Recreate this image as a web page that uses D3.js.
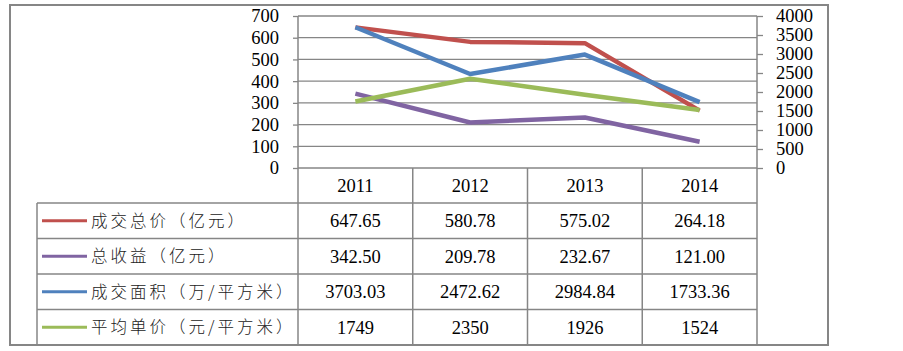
<!DOCTYPE html>
<html>
<head>
<meta charset="utf-8">
<script src="https://cdn.jsdelivr.net/npm/d3@7"></script>
<style>
  body { margin: 0; background: #fff; }
  svg { display: block; }
</style>
</head>
<body>
<div id="chart"></div>
<script>
// Chart data
const years = ["2011", "2012", "2013", "2014"];
const seriesNames = ["成交总价（亿元）", "总收益（亿元）", "成交面积（万/平方米）", "平均单价（元/平方米）"];
const totalPrice = [647.65, 580.78, 575.02, 264.18];
const totalIncome = [342.50, 209.78, 232.67, 121.00];
const dealArea = [3703.03, 2472.62, 2984.84, 1733.36];
const avgPrice = [1749, 2350, 1926, 1524];
const valueLabels = [
  ["647.65", "580.78", "575.02", "264.18"],
  ["342.50", "209.78", "232.67", "121.00"],
  ["3703.03", "2472.62", "2984.84", "1733.36"],
  ["1749", "2350", "1926", "1524"]
];
const leftTicks = [0, 100, 200, 300, 400, 500, 600, 700];
const rightTicks = [0, 500, 1000, 1500, 2000, 2500, 3000, 3500, 4000];

const colors = ["#C0504D", "#8064A2", "#4F81BD", "#9BBB59"];
const axisOf = ["left", "left", "right", "right"];
const seriesValues = [totalPrice, totalIncome, dealArea, avgPrice];

const W = 903, H = 351;
const gridColor = "#868686";
const numFont = "Liberation Serif";
const cjkFont = "Noto Sans CJK SC";

// plot area
const plotLeft = 298, plotRight = 757, plotTop = 16, plotBottom = 168;
// table
const tableLeft = 37, headerBottom = 203, tableBottom = 345;
const rowH = (tableBottom - headerBottom) / 4;

const svg = d3.select("#chart")
  .append("svg")
  .attr("width", W)
  .attr("height", H);

const x = d3.scaleBand().domain(years).range([plotLeft, plotRight]).padding(0);
const yL = d3.scaleLinear().domain([0, 700]).range([plotBottom, plotTop]);
const yR = d3.scaleLinear().domain([0, 4000]).range([plotBottom, plotTop]);

// outer frame
svg.append("rect")
  .attr("x", 10).attr("y", 5)
  .attr("width", 818).attr("height", 340)
  .attr("fill", "none")
  .attr("stroke", gridColor)
  .attr("stroke-width", 2);

// gridlines
svg.append("g")
  .selectAll("line")
  .data(leftTicks)
  .join("line")
  .attr("x1", plotLeft).attr("x2", plotRight)
  .attr("y1", (d) => yL(d)).attr("y2", (d) => yL(d))
  .attr("stroke", gridColor)
  .attr("stroke-width", 1.3);

// axes
const leftAxis = svg.append("g")
  .attr("transform", `translate(${plotLeft},0)`)
  .call(d3.axisLeft(yL).tickValues(leftTicks).tickSize(5).tickSizeOuter(0).tickPadding(14));

const rightAxis = svg.append("g")
  .attr("transform", `translate(${plotRight},0)`)
  .call(d3.axisRight(yR).tickValues(rightTicks).tickFormat(d3.format("d"))
    .tickSize(6).tickSizeOuter(0).tickPadding(13));

[leftAxis, rightAxis].forEach((g) => {
  g.select(".domain").remove();
  g.selectAll(".tick line").attr("stroke", gridColor).attr("stroke-width", 1.3);
  g.selectAll(".tick text")
    .attr("fill", "#000")
    .attr("font-family", numFont)
    .attr("font-size", 18.5);
});

// table grid lines
const tbl = svg.append("g")
  .attr("stroke", gridColor)
  .attr("stroke-width", 1.5);

// vertical axis lines run down through the table
[plotLeft, plotRight].forEach((px) => {
  tbl.append("line")
    .attr("x1", px).attr("x2", px)
    .attr("y1", plotTop).attr("y2", tableBottom);
});
years.forEach((yr, i) => {
  if (i === 0) return;
  tbl.append("line")
    .attr("x1", x(yr)).attr("x2", x(yr))
    .attr("y1", plotBottom).attr("y2", tableBottom);
});
tbl.append("line")
  .attr("x1", tableLeft).attr("x2", tableLeft)
  .attr("y1", headerBottom).attr("y2", tableBottom);
for (let r = 0; r <= 4; r++) {
  tbl.append("line")
    .attr("x1", tableLeft).attr("x2", plotRight)
    .attr("y1", headerBottom + r * rowH).attr("y2", headerBottom + r * rowH);
}

// year header
svg.append("g")
  .selectAll("text")
  .data(years)
  .join("text")
  .attr("x", (d) => x(d) + x.bandwidth() / 2)
  .attr("y", (plotBottom + headerBottom) / 2)
  .attr("dy", "0.35em")
  .attr("text-anchor", "middle")
  .attr("font-family", numFont)
  .attr("font-size", 18.5)
  .text((d) => d);

// table rows
seriesNames.forEach((name, r) => {
  const cy = headerBottom + r * rowH + rowH / 2;
  svg.append("line")
    .attr("x1", 42).attr("x2", 87)
    .attr("y1", cy).attr("y2", cy)
    .attr("stroke", colors[r])
    .attr("stroke-width", 3);
  svg.append("text")
    .attr("x", 91)
    .attr("y", cy)
    .attr("dy", "0.36em")
    .attr("font-family", cjkFont)
    .attr("font-size", 16.5)
    .attr("font-weight", 300)
    .attr("fill", "#222")
    .style("letter-spacing", "3px")
    .text(name);
  svg.append("g")
    .selectAll("text")
    .data(valueLabels[r])
    .join("text")
    .attr("x", (d, i) => x(years[i]) + x.bandwidth() / 2)
    .attr("y", cy)
    .attr("dy", "0.35em")
    .attr("text-anchor", "middle")
    .attr("font-family", numFont)
    .attr("font-size", 18.5)
    .text((d) => d);
});

// lines
seriesValues.forEach((vals, s) => {
  const yScale = axisOf[s] === "left" ? yL : yR;
  const line = d3.line()
    .x((d, i) => x(years[i]) + x.bandwidth() / 2)
    .y((d) => yScale(d));
  svg.append("path")
    .datum(vals)
    .attr("d", line)
    .attr("fill", "none")
    .attr("stroke", colors[s])
    .attr("stroke-width", 4.5)
    .attr("stroke-linejoin", "round");
});
</script>
</body>
</html>
